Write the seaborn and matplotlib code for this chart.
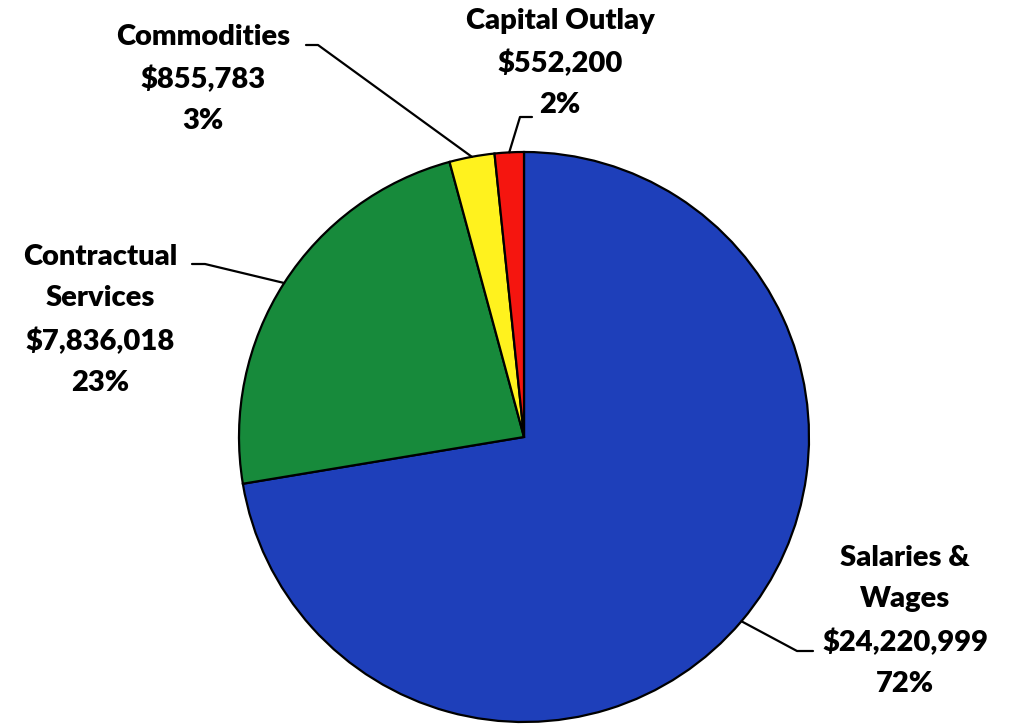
import numpy as np
import matplotlib
matplotlib.use("Agg")
import matplotlib.pyplot as plt
import seaborn as sns

categories = ["Salaries &\nWages", "Contractual\nServices", "Commodities", "Capital Outlay"]
amounts = [24220999, 7836018, 855783, 552200]
pct_labels = ["72%", "23%", "3%", "2%"]
colors = ["#1E3FBA", "#178A3B", "#FFF21E", "#F5150F"]

sns.set_theme(style="white")
plt.rcParams['font.family'] = ['Lato', 'DejaVu Sans']

W, H = 1015, 728
fig = plt.figure(figsize=(W / 100, H / 100), dpi=100)
cx, cy, R = 524, 437, 285
ax = fig.add_axes([(cx - R) / W, (H - cy - R) / H, 2 * R / W, 2 * R / H])

wedges, _ = ax.pie(amounts, colors=colors, startangle=90, counterclock=False,
                   wedgeprops=dict(edgecolor="black", linewidth=1.6))
ax.set_xlim(-1, 1)
ax.set_ylim(-1, 1)
ax.set_aspect("equal")
ax.axis("off")

def px(x, y):
    return ((x - cx) / R, (cy - y) / R)

# layout: (text center px, elbow px, end px)
layout = [
    ((905, 621), (797, 651), (813, 651)),
    ((100, 320), (205, 264), (192, 264)),
    ((203, 79), (318, 45), (306, 45)),
    ((560, 63), (520, 117), (532, 117)),
]

for w, cat, amt, pct, (tc, elbow, end) in zip(wedges, categories, amounts, pct_labels, layout):
    mid = np.deg2rad((w.theta1 + w.theta2) / 2)
    ex, ey = np.cos(mid), np.sin(mid)
    bx, by = px(*elbow)
    nx, ny = px(*end)
    ax.plot([ex, bx, nx], [ey, by, ny], color="black", lw=1.6, clip_on=False)
    tx, ty = px(*tc)
    ax.text(tx, ty, f"{cat}\n${amt:,}\n{pct}", ha="center", va="center",
            fontsize=21, fontweight="heavy", linespacing=1.72, color="black",
            clip_on=False)

fig.savefig("out.png", dpi=100, facecolor="white")
